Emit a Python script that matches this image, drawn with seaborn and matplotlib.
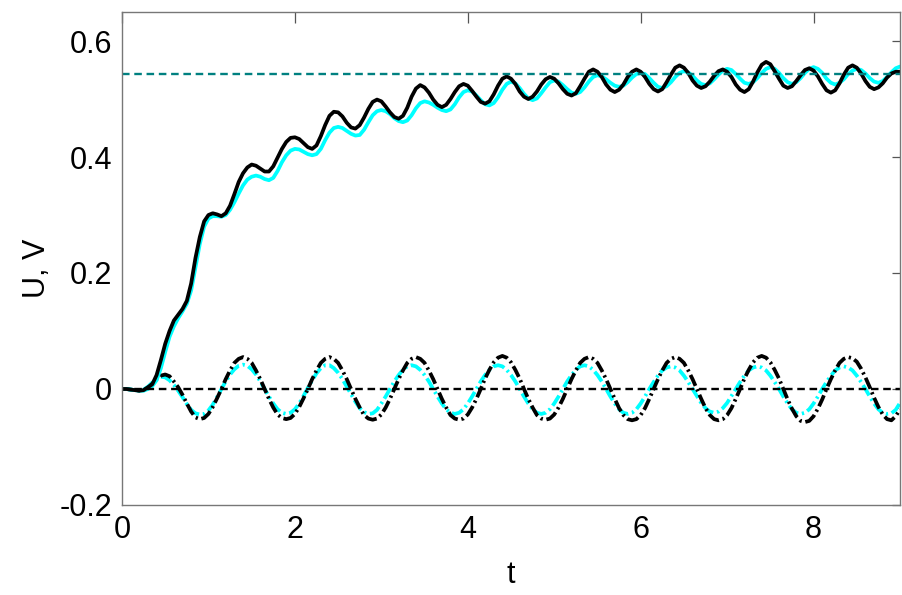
import numpy as np
import pandas as pd
import matplotlib
matplotlib.use("Agg")
import matplotlib.pyplot as plt
import seaborn as sns

# time grid (step 0.05 from 0 to 9)
t = np.round(np.arange(181) * 0.05, 2)

# U: black solid curve
U_black = [
    0.000, 0.000, -0.001, -0.002, -0.003, -0.002, 0.003, 0.008, 0.024, 0.050,
    0.078, 0.100, 0.118, 0.128, 0.138, 0.152, 0.182, 0.226, 0.262, 0.289,
    0.300, 0.303, 0.301, 0.298, 0.303, 0.316, 0.336, 0.357, 0.372, 0.382,
    0.387, 0.385, 0.380, 0.375, 0.375, 0.384, 0.399, 0.414, 0.426, 0.433,
    0.434, 0.431, 0.424, 0.417, 0.414, 0.420, 0.436, 0.455, 0.471, 0.478,
    0.477, 0.470, 0.459, 0.451, 0.449, 0.455, 0.468, 0.483, 0.495, 0.499,
    0.496, 0.487, 0.477, 0.469, 0.466, 0.471, 0.485, 0.504, 0.518, 0.524,
    0.520, 0.511, 0.499, 0.490, 0.486, 0.490, 0.500, 0.512, 0.522, 0.526,
    0.523, 0.514, 0.504, 0.495, 0.492, 0.496, 0.508, 0.523, 0.535, 0.539,
    0.535, 0.526, 0.513, 0.504, 0.500, 0.504, 0.513, 0.525, 0.534, 0.538,
    0.535, 0.527, 0.517, 0.509, 0.506, 0.510, 0.522, 0.535, 0.547, 0.551,
    0.547, 0.538, 0.525, 0.516, 0.512, 0.516, 0.525, 0.538, 0.547, 0.551,
    0.547, 0.538, 0.526, 0.517, 0.513, 0.517, 0.529, 0.542, 0.554, 0.558,
    0.554, 0.545, 0.532, 0.523, 0.519, 0.522, 0.530, 0.540, 0.548, 0.551,
    0.547, 0.538, 0.525, 0.516, 0.512, 0.517, 0.530, 0.546, 0.559, 0.564,
    0.560, 0.548, 0.535, 0.523, 0.519, 0.522, 0.531, 0.541, 0.550, 0.553,
    0.549, 0.539, 0.526, 0.515, 0.511, 0.515, 0.527, 0.542, 0.554, 0.558,
    0.554, 0.544, 0.531, 0.521, 0.517, 0.520, 0.527, 0.537, 0.544, 0.547,
    0.547,
]

# U: cyan solid curve
U_cyan = [
    0.000, 0.000, -0.001, -0.002, -0.003, -0.003, 0.000, 0.005, 0.015, 0.036,
    0.064, 0.090, 0.108, 0.122, 0.134, 0.147, 0.170, 0.210, 0.250, 0.280,
    0.294, 0.298, 0.298, 0.297, 0.300, 0.309, 0.322, 0.337, 0.351, 0.361,
    0.366, 0.368, 0.366, 0.362, 0.360, 0.364, 0.376, 0.391, 0.403, 0.411,
    0.414, 0.413, 0.409, 0.405, 0.403, 0.405, 0.414, 0.429, 0.442, 0.450,
    0.452, 0.450, 0.445, 0.440, 0.437, 0.438, 0.447, 0.460, 0.472, 0.479,
    0.481, 0.479, 0.474, 0.467, 0.462, 0.460, 0.463, 0.472, 0.484, 0.493,
    0.496, 0.494, 0.490, 0.485, 0.481, 0.479, 0.482, 0.491, 0.503, 0.512,
    0.515, 0.513, 0.506, 0.498, 0.491, 0.489, 0.493, 0.503, 0.516, 0.526,
    0.530, 0.527, 0.519, 0.509, 0.501, 0.498, 0.501, 0.510, 0.520, 0.529,
    0.532, 0.530, 0.524, 0.517, 0.511, 0.509, 0.512, 0.520, 0.530, 0.538,
    0.541, 0.539, 0.534, 0.528, 0.523, 0.521, 0.523, 0.529, 0.537, 0.543,
    0.545, 0.543, 0.536, 0.528, 0.521, 0.519, 0.522, 0.529, 0.538, 0.545,
    0.548, 0.546, 0.540, 0.532, 0.526, 0.524, 0.527, 0.534, 0.542, 0.549,
    0.552, 0.550, 0.543, 0.535, 0.528, 0.526, 0.529, 0.536, 0.545, 0.552,
    0.555, 0.552, 0.545, 0.536, 0.529, 0.526, 0.529, 0.536, 0.545, 0.552,
    0.555, 0.552, 0.545, 0.535, 0.528, 0.525, 0.528, 0.534, 0.543, 0.549,
    0.552, 0.550, 0.544, 0.536, 0.530, 0.528, 0.531, 0.538, 0.546, 0.553,
    0.556,
]

# V: black dash-dot curve
V_black = [
    0.000, 0.000, -0.001, -0.002, -0.003, -0.002, 0.002, 0.009, 0.017, 0.023,
    0.025, 0.022, 0.013, 0.003, -0.010, -0.025, -0.039, -0.049, -0.052, -0.050,
    -0.043, -0.031, -0.016, 0.000, 0.017, 0.032, 0.045, 0.052, 0.055, 0.052,
    0.045, 0.032, 0.017, 0.000, -0.017, -0.032, -0.044, -0.050, -0.052, -0.050,
    -0.043, -0.031, -0.016, 0.000, 0.017, 0.032, 0.045, 0.052, 0.055, 0.052,
    0.045, 0.032, 0.017, 0.000, -0.017, -0.032, -0.045, -0.051, -0.053, -0.051,
    -0.044, -0.032, -0.017, 0.000, 0.017, 0.032, 0.045, 0.052, 0.055, 0.052,
    0.045, 0.032, 0.017, 0.000, -0.017, -0.032, -0.045, -0.051, -0.053, -0.051,
    -0.044, -0.032, -0.017, 0.000, 0.018, 0.033, 0.046, 0.054, 0.057, 0.054,
    0.046, 0.033, 0.018, 0.000, -0.017, -0.032, -0.045, -0.051, -0.053, -0.051,
    -0.044, -0.032, -0.017, 0.000, 0.017, 0.032, 0.045, 0.052, 0.055, 0.052,
    0.045, 0.032, 0.017, 0.000, -0.017, -0.033, -0.045, -0.052, -0.054, -0.052,
    -0.045, -0.033, -0.017, 0.000, 0.017, 0.032, 0.045, 0.052, 0.055, 0.052,
    0.045, 0.032, 0.017, 0.000, -0.017, -0.033, -0.045, -0.052, -0.054, -0.052,
    -0.045, -0.033, -0.017, 0.000, 0.018, 0.033, 0.046, 0.054, 0.057, 0.054,
    0.046, 0.033, 0.018, 0.000, -0.018, -0.034, -0.047, -0.055, -0.057, -0.055,
    -0.047, -0.034, -0.018, 0.000, 0.017, 0.032, 0.045, 0.052, 0.055, 0.053,
    0.047, 0.035, 0.020, 0.003, -0.015, -0.031, -0.044, -0.052, -0.054, -0.047,
    -0.035,
]

# V: cyan dash-dot curve
V_cyan = [
    0.000, 0.000, -0.001, -0.002, -0.002, -0.001, 0.004, 0.011, 0.018, 0.021,
    0.020, 0.015, 0.007, -0.003, -0.014, -0.026, -0.036, -0.042, -0.044, -0.043,
    -0.037, -0.027, -0.014, 0.000, 0.013, 0.025, 0.034, 0.040, 0.042, 0.040,
    0.034, 0.025, 0.013, 0.000, -0.013, -0.025, -0.035, -0.041, -0.043, -0.041,
    -0.035, -0.025, -0.012, 0.002, 0.015, 0.027, 0.036, 0.041, 0.041, 0.036,
    0.028, 0.017, 0.004, -0.009, -0.022, -0.033, -0.040, -0.043, -0.042, -0.036,
    -0.025, -0.013, 0.000, 0.013, 0.024, 0.033, 0.039, 0.041, 0.039, 0.033,
    0.024, 0.013, 0.000, -0.013, -0.025, -0.035, -0.041, -0.043, -0.041, -0.035,
    -0.025, -0.013, 0.000, 0.013, 0.024, 0.033, 0.039, 0.041, 0.039, 0.033,
    0.024, 0.013, 0.000, -0.013, -0.025, -0.035, -0.041, -0.043, -0.041, -0.035,
    -0.025, -0.013, 0.000, 0.013, 0.024, 0.033, 0.039, 0.041, 0.039, 0.033,
    0.024, 0.013, 0.000, -0.013, -0.025, -0.035, -0.041, -0.043, -0.041, -0.035,
    -0.025, -0.013, 0.000, 0.012, 0.023, 0.032, 0.037, 0.039, 0.037, 0.032,
    0.023, 0.012, 0.000, -0.012, -0.024, -0.033, -0.039, -0.041, -0.039, -0.033,
    -0.024, -0.012, 0.000, 0.012, 0.023, 0.032, 0.037, 0.039, 0.037, 0.032,
    0.023, 0.012, 0.000, -0.013, -0.025, -0.035, -0.041, -0.043, -0.041, -0.035,
    -0.025, -0.013, 0.000, 0.012, 0.023, 0.032, 0.037, 0.039, 0.037, 0.032,
    0.023, 0.012, 0.000, -0.013, -0.025, -0.035, -0.041, -0.043, -0.042, -0.036,
    -0.024,
]

# horizontal reference levels
U_level = 0.543
V_level = 0.0

y_ticks = [-0.2, 0.0, 0.2, 0.4, 0.6]
y_tick_labels = ["-0.2", "0", "0.2", "0.4", "0.6"]
x_ticks = [0, 2, 4, 6, 8]
x_tick_labels = ["0", "2", "4", "6", "8"]

sns.set_theme(style="white")
plt.rcParams["font.family"] = ["Liberation Sans", "DejaVu Sans"]

fig = plt.figure(figsize=(9.03, 5.95), dpi=100)
ax = fig.add_axes([0.1351, 0.1513, 0.9967 - 0.1351, 0.9798 - 0.1513])

df = pd.DataFrame({"t": t, "U_black": U_black, "U_cyan": U_cyan,
                   "V_black": V_black, "V_cyan": V_cyan})

lw = 2.7
dashdot = (3.2, 1.0, 0.6, 1.0)

sns.lineplot(data=df, x="t", y="V_cyan", ax=ax, color="#00FFFF", lw=lw,
             dashes=False, linestyle=(0, dashdot))
sns.lineplot(data=df, x="t", y="V_black", ax=ax, color="black", lw=lw,
             dashes=False, linestyle=(0, dashdot))
sns.lineplot(data=df, x="t", y="U_cyan", ax=ax, color="#00FFFF", lw=lw)
sns.lineplot(data=df, x="t", y="U_black", ax=ax, color="black", lw=lw)

ax.axhline(U_level, color="#008080", lw=1.7, dashes=(3.2, 2.0))
ax.axhline(V_level, color="black", lw=1.7, dashes=(3.2, 2.0))

ax.set_xlim(0, 9)
ax.set_ylim(-0.2, 0.65)
ax.set_xticks(x_ticks)
ax.set_xticklabels(x_tick_labels)
ax.set_yticks(y_ticks)
ax.set_yticklabels(y_tick_labels)

for s in ax.spines.values():
    s.set_visible(True)
    s.set_color("#777777")
    s.set_linewidth(1.0)

ax.tick_params(axis="both", which="major", direction="in", labelsize=22,
               colors="#555555", labelcolor="black", top=True, right=True,
               width=0.9)
ax.tick_params(axis="x", length=8, pad=7)
ax.tick_params(axis="y", length=6, pad=7)

ax.set_xlabel("t", fontsize=22, color="black")
ax.set_ylabel("U, V", fontsize=22, color="black")
ax.xaxis.set_label_coords(0.5, -0.112)
ax.yaxis.set_label_coords(-0.09, 0.48)
ax.grid(False)
ax.set_facecolor("white")
fig.patch.set_facecolor("white")

fig.savefig("out.png", dpi=100)
